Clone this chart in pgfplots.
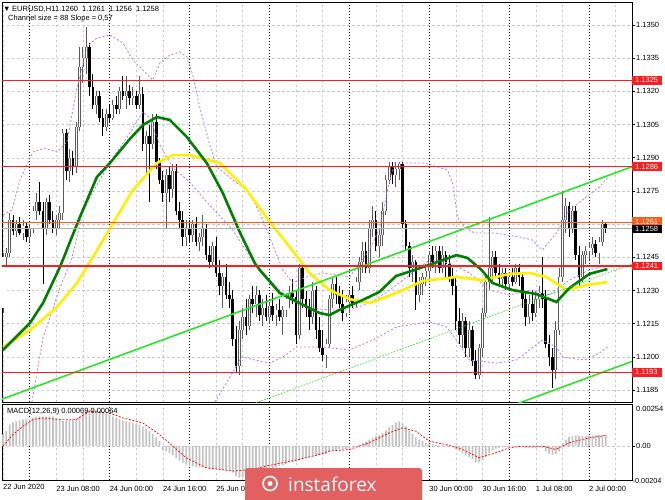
\documentclass[border=0pt]{standalone}
\usepackage{fontspec}
\setmainfont{Liberation Sans}
\newfontfamily\wmfont{Open Sans}
\usepackage{pgfplots}
\usepackage{pgfplotstable}
\pgfplotsset{compat=1.18}

\definecolor{gridgray}{RGB}{200,200,200}
\definecolor{chanGreen}{RGB}{40,230,40}
\definecolor{maGreen}{RGB}{0,128,0}
\definecolor{maYellow}{RGB}{255,240,0}
\definecolor{bbViolet}{RGB}{185,125,240}
\definecolor{lvlRed}{RGB}{250,30,30}
\definecolor{askOrange}{RGB}{255,90,30}
\definecolor{bullGray}{RGB}{90,90,90}
\definecolor{histGray}{RGB}{195,195,195}
\definecolor{wmRed}{RGB}{226,96,96}

% EURUSD H1 candles, i = bar number from 22 Jun 16:00
\pgfplotstableread{
i o h l c
0 1.1222 1.1247 1.1220 1.1245
1 1.1245 1.1249 1.1241 1.1247
2 1.1247 1.1265 1.1245 1.1262
3 1.1262 1.1264 1.1255 1.1257
4 1.1257 1.1262 1.1254 1.1260
5 1.1260 1.1263 1.1255 1.1256
6 1.1256 1.1262 1.1253 1.1259
7 1.1259 1.1261 1.1252 1.1254
8 1.1254 1.1260 1.1252 1.1258
9 1.1258 1.1268 1.1256 1.1266
10 1.1266 1.1274 1.1262 1.1270
11 1.1270 1.1279 1.1264 1.1266
12 1.1266 1.1270 1.1233 1.1258
13 1.1258 1.1272 1.1255 1.1270
14 1.1270 1.1273 1.1260 1.1262
15 1.1262 1.1266 1.1256 1.1258
16 1.1258 1.1264 1.1255 1.1262
17 1.1262 1.1268 1.1258 1.1265
18 1.1265 1.1303 1.1262 1.1301
19 1.1301 1.1303 1.1280 1.1284
20 1.1284 1.1294 1.1279 1.1290
21 1.1290 1.1293 1.1282 1.1286
22 1.1286 1.1306 1.1283 1.1304
23 1.1304 1.1340 1.1302 1.1331
24 1.1331 1.1340 1.1324 1.1335
25 1.1335 1.1349 1.1328 1.1340
26 1.1340 1.1342 1.1318 1.1322
27 1.1322 1.1328 1.1312 1.1314
28 1.1314 1.1320 1.1310 1.1318
29 1.1318 1.1320 1.1306 1.1308
30 1.1308 1.1312 1.1300 1.1304
31 1.1304 1.1312 1.1302 1.1310
32 1.1310 1.1314 1.1306 1.1308
33 1.1308 1.1316 1.1307 1.1314
34 1.1314 1.1318 1.1310 1.1312
35 1.1312 1.1322 1.1310 1.1320
36 1.1320 1.1327 1.1316 1.1318
37 1.1318 1.1327 1.1312 1.1320
38 1.1320 1.1323 1.1314 1.1317
39 1.1317 1.1322 1.1314 1.1318
40 1.1318 1.1320 1.1312 1.1314
41 1.1314 1.1327 1.1312 1.1319
42 1.1319 1.1322 1.1293 1.1296
43 1.1296 1.1302 1.1283 1.1300
44 1.1300 1.1305 1.1270 1.1296
45 1.1296 1.1310 1.1294 1.1306
46 1.1306 1.1310 1.1285 1.1288
47 1.1288 1.1290 1.1278 1.1280
48 1.1280 1.1284 1.1270 1.1274
49 1.1274 1.1285 1.1258 1.1282
50 1.1282 1.1286 1.1270 1.1276
51 1.1276 1.1287 1.1272 1.1284
52 1.1284 1.1287 1.1264 1.1266
53 1.1266 1.1270 1.1258 1.1262
54 1.1262 1.1266 1.1250 1.1254
55 1.1254 1.1262 1.1250 1.1258
56 1.1258 1.1262 1.1252 1.1255
57 1.1255 1.1262 1.1252 1.1260
58 1.1260 1.1263 1.1250 1.1252
59 1.1252 1.1256 1.1248 1.1254
60 1.1254 1.1264 1.1250 1.1258
61 1.1258 1.1260 1.1244 1.1246
62 1.1246 1.1250 1.1240 1.1243
63 1.1243 1.1252 1.1241 1.1250
64 1.1250 1.1254 1.1236 1.1238
65 1.1238 1.1244 1.1228 1.1232
66 1.1232 1.1238 1.1222 1.1236
67 1.1236 1.1242 1.1226 1.1228
68 1.1228 1.1234 1.1222 1.1226
69 1.1226 1.1230 1.1205 1.1208
70 1.1208 1.1214 1.1193 1.1196
71 1.1196 1.1216 1.1192 1.1212
72 1.1212 1.1222 1.1208 1.1218
73 1.1218 1.1226 1.1210 1.1214
74 1.1214 1.1228 1.1212 1.1226
75 1.1226 1.1232 1.1220 1.1224
76 1.1224 1.1232 1.1218 1.1228
77 1.1228 1.1230 1.1216 1.1219
78 1.1219 1.1226 1.1214 1.1222
79 1.1222 1.1228 1.1216 1.1218
80 1.1218 1.1225 1.1215 1.1223
81 1.1223 1.1229 1.1216 1.1219
82 1.1219 1.1224 1.1214 1.1221
83 1.1221 1.1226 1.1216 1.1218
84 1.1218 1.1223 1.1210 1.1221
85 1.1221 1.1228 1.1218 1.1226
86 1.1226 1.1232 1.1222 1.1229
87 1.1229 1.1235 1.1224 1.1227
88 1.1227 1.1230 1.1206 1.1210
89 1.1210 1.1242 1.1208 1.1240
90 1.1240 1.1242 1.1222 1.1226
91 1.1226 1.1230 1.1218 1.1222
92 1.1222 1.1226 1.1212 1.1218
93 1.1218 1.1234 1.1215 1.1230
94 1.1230 1.1232 1.1208 1.1212
95 1.1212 1.1218 1.1202 1.1204
96 1.1204 1.1212 1.1198 1.1201
97 1.1201 1.1208 1.1195 1.1206
98 1.1206 1.1228 1.1204 1.1226
99 1.1226 1.1236 1.1222 1.1233
100 1.1233 1.1236 1.1224 1.1228
101 1.1228 1.1232 1.1222 1.1224
102 1.1224 1.1230 1.1216 1.1220
103 1.1220 1.1228 1.1218 1.1225
104 1.1225 1.1230 1.1220 1.1228
105 1.1228 1.1232 1.1222 1.1224
106 1.1224 1.1236 1.1222 1.1234
107 1.1234 1.1245 1.1230 1.1243
108 1.1243 1.1252 1.1238 1.1248
109 1.1248 1.1252 1.1238 1.1240
110 1.1240 1.1262 1.1238 1.1258
111 1.1258 1.1268 1.1254 1.1262
112 1.1262 1.1266 1.1248 1.1250
113 1.1250 1.1258 1.1245 1.1255
114 1.1255 1.1270 1.1250 1.1266
115 1.1266 1.1282 1.1264 1.1280
116 1.1280 1.1288 1.1278 1.1286
117 1.1286 1.1288 1.1278 1.1282
118 1.1282 1.1288 1.1277 1.1285
119 1.1285 1.1288 1.1280 1.1287
120 1.1287 1.1288 1.1258 1.1260
121 1.1260 1.1262 1.1248 1.1250
122 1.1250 1.1252 1.1236 1.1240
123 1.1240 1.1246 1.1234 1.1243
124 1.1243 1.1244 1.1221 1.1228
125 1.1228 1.1236 1.1225 1.1233
126 1.1233 1.1238 1.1228 1.1236
127 1.1236 1.1242 1.1232 1.1239
128 1.1239 1.1248 1.1235 1.1246
129 1.1246 1.1250 1.1240 1.1243
130 1.1243 1.1250 1.1238 1.1248
131 1.1248 1.1250 1.1238 1.1240
132 1.1240 1.1250 1.1238 1.1246
133 1.1246 1.1248 1.1236 1.1242
134 1.1242 1.1246 1.1234 1.1236
135 1.1236 1.1240 1.1228 1.1232
136 1.1232 1.1236 1.1212 1.1216
137 1.1216 1.1222 1.1206 1.1210
138 1.1210 1.1220 1.1204 1.1216
139 1.1216 1.1218 1.1200 1.1204
140 1.1204 1.1216 1.1200 1.1212
141 1.1212 1.1214 1.1196 1.1198
142 1.1198 1.1203 1.1190 1.1192
143 1.1192 1.1206 1.1190 1.1204
144 1.1204 1.1222 1.1200 1.1220
145 1.1220 1.1238 1.1218 1.1234
146 1.1234 1.1263 1.1230 1.1240
147 1.1240 1.1248 1.1234 1.1245
148 1.1245 1.1248 1.1236 1.1238
149 1.1238 1.1242 1.1232 1.1235
150 1.1235 1.1240 1.1232 1.1238
151 1.1238 1.1240 1.1230 1.1233
152 1.1233 1.1238 1.1230 1.1236
153 1.1236 1.1240 1.1232 1.1234
154 1.1234 1.1242 1.1233 1.1240
155 1.1240 1.1242 1.1232 1.1236
156 1.1236 1.1238 1.1222 1.1226
157 1.1226 1.1230 1.1214 1.1218
158 1.1218 1.1228 1.1215 1.1224
159 1.1224 1.1230 1.1216 1.1220
160 1.1220 1.1230 1.1218 1.1226
161 1.1226 1.1232 1.1222 1.1229
162 1.1229 1.1245 1.1222 1.1226
163 1.1226 1.1230 1.1204 1.1206
164 1.1206 1.1210 1.1196 1.1200
165 1.1200 1.1204 1.1186 1.1194
166 1.1194 1.1216 1.1190 1.1212
167 1.1212 1.1240 1.1210 1.1236
168 1.1236 1.1275 1.1234 1.1262
169 1.1262 1.1272 1.1256 1.1268
170 1.1268 1.1270 1.1254 1.1258
171 1.1258 1.1268 1.1256 1.1266
172 1.1266 1.1268 1.1244 1.1246
173 1.1246 1.1250 1.1232 1.1236
174 1.1236 1.1248 1.1234 1.1246
175 1.1246 1.1250 1.1242 1.1248
176 1.1248 1.1252 1.1244 1.1249
177 1.1249 1.1254 1.1246 1.1251
178 1.1251 1.1253 1.1245 1.1247
179 1.1247 1.1254 1.1242 1.1252
180 1.1252 1.1262 1.1250 1.1260
181 1.1260 1.1261 1.1256 1.1258
}\candles

% MACD(12,26,9) histogram
\pgfplotstableread{
i m
0 0.00071
1 0.00091
2 0.00130
3 0.00144
4 0.00150
5 0.00155
6 0.00160
7 0.00162
8 0.00165
9 0.00172
10 0.00178
11 0.00180
12 0.00176
13 0.00178
14 0.00180
15 0.00178
16 0.00170
17 0.00158
18 0.00152
19 0.00155
20 0.00160
21 0.00162
22 0.00166
23 0.00180
24 0.00200
25 0.00212
26 0.00218
27 0.00222
28 0.00218
29 0.00212
30 0.00205
31 0.00198
32 0.00190
33 0.00180
34 0.00170
35 0.00162
36 0.00155
37 0.00150
38 0.00145
39 0.00140
40 0.00135
41 0.00130
42 0.00118
43 0.00105
44 0.00090
45 0.00075
46 0.00055
47 0.00032
48 -0.00025
49 -0.00030
50 -0.00040
51 -0.00055
52 -0.00070
53 -0.00085
54 -0.00100
55 -0.00110
56 -0.00118
57 -0.00122
58 -0.00125
59 -0.00128
60 -0.00130
61 -0.00132
62 -0.00135
63 -0.00138
64 -0.00140
65 -0.00142
66 -0.00145
67 -0.00148
68 -0.00150
69 -0.00160
70 -0.00180
71 -0.00190
72 -0.00185
73 -0.00175
74 -0.00165
75 -0.00158
76 -0.00150
77 -0.00145
78 -0.00140
79 -0.00138
80 -0.00135
81 -0.00132
82 -0.00128
83 -0.00122
84 -0.00115
85 -0.00108
86 -0.00100
87 -0.00095
88 -0.00092
89 -0.00085
90 -0.00078
91 -0.00072
92 -0.00066
93 -0.00060
94 -0.00055
95 -0.00052
96 -0.00050
97 -0.00045
98 -0.00035
99 -0.00025
100 -0.00022
101 -0.00020
102 -0.00020
103 -0.00018
104 -0.00012
105 -0.00008
106 -0.00002
107 0.00008
108 0.00018
109 0.00025
110 0.00040
111 0.00052
112 0.00060
113 0.00068
114 0.00080
115 0.00095
116 0.00115
117 0.00128
118 0.00140
119 0.00150
120 0.00138
121 0.00118
122 0.00095
123 0.00075
124 0.00055
125 0.00040
126 0.00030
127 0.00022
128 0.00015
129 0.00010
130 0.00008
131 0.00005
132 0.00004
133 0.00003
134 0.00000
135 -0.00005
136 -0.00018
137 -0.00030
138 -0.00042
139 -0.00055
140 -0.00066
141 -0.00080
142 -0.00095
143 -0.00098
144 -0.00085
145 -0.00065
146 -0.00040
147 -0.00025
148 -0.00015
149 -0.00010
150 -0.00008
151 -0.00006
152 -0.00005
153 -0.00003
154 0.00002
155 0.00003
156 -0.00003
157 -0.00010
158 -0.00012
159 -0.00012
160 -0.00010
161 -0.00008
162 -0.00010
163 -0.00030
164 -0.00045
165 -0.00052
166 -0.00048
167 -0.00030
168 0.00020
169 0.00040
170 0.00055
171 0.00060
172 0.00062
173 0.00060
174 0.00060
175 0.00062
176 0.00064
177 0.00066
178 0.00066
179 0.00068
180 0.00070
181 0.00069
}\macd

\begin{document}
\begin{tikzpicture}
\fill[white] (0pt,0pt) rectangle (665pt,-499pt);
\path[use as bounding box] (0pt,0pt) rectangle (665pt,-499pt);

\pgfplotsset{
  mtgrid/.style={
    xmin=-0.3, xmax=188.9,
    scale only axis, width=630pt, scaled ticks=false,
    clip mode=individual,
    axis line style={black, line width=0.8pt},
    tick label style={font=\fontsize{7.5}{8}\selectfont, black},
    tick align=outside, major tick length=3pt,
    ytick pos=right, yticklabel pos=right,
    ytick style={black, line width=0.6pt},
    xtick style={draw=none},
    xtick={0,16,24,40,48,64,72,88,96,112,120,136,144,160,168,184},
    extra x ticks={8,32,56,80,104,128,152,176},
    extra x tick style={major grid style={black, line width=0.6pt, dash pattern=on 1pt off 2pt}, xtick style={draw=none}},
    xmajorgrids, ymajorgrids,
    major grid style={gridgray, line width=0.5pt, dash pattern=on 2.5pt off 2.5pt},
    yticklabel style={anchor=west, inner sep=1pt},
  },
  cndl/.style 2 args={draw=none, mark=none,
    error bars/.cd, y dir=plus, y explicit, error mark=none,
    error bar style={draw=#1, solid, line width=#2}},
}

% ---------------- price panel ----------------
\begin{axis}[mtgrid,
  at={(2pt,-2pt)}, anchor=north west, height=400pt,
  ymin=1.11796, ymax=1.13604,
  ytick={1.1185,1.1200,1.1215,1.1230,1.1245,1.1260,1.1275,1.1290,1.1305,1.1320,1.1335,1.1350},
  yticklabels={1.1185,1.1200,1.1215,1.1230,1.1245,{},1.1275,1.1290,1.1305,1.1320,1.1335,1.1350},
  xticklabels={}, extra x tick labels={},
]
% wicks
\addplot[restrict expr to domain={\thisrow{c}-\thisrow{o}}{0:1}, cndl={bullGray}{0.9pt}]
  table[x=i, y=l, y error expr=\thisrow{h}-\thisrow{l}] {\candles};
\addplot[restrict expr to domain={\thisrow{c}-\thisrow{o}}{-1:-0.00001}, cndl={black}{0.9pt}]
  table[x=i, y=l, y error expr=\thisrow{h}-\thisrow{l}] {\candles};
% bodies
\addplot[restrict expr to domain={\thisrow{c}-\thisrow{o}}{0:1}, cndl={bullGray}{2.7pt}]
  table[x=i, y=o, y error expr=\thisrow{c}-\thisrow{o}] {\candles};
\addplot[restrict expr to domain={\thisrow{c}-\thisrow{o}}{0:1}, cndl={white}{1.1pt}]
  table[x=i, y=o, y error expr=\thisrow{c}-\thisrow{o}] {\candles};
\addplot[restrict expr to domain={\thisrow{c}-\thisrow{o}}{-1:-0.00001}, cndl={black}{2.7pt}]
  table[x=i, y=c, y error expr=\thisrow{o}-\thisrow{c}] {\candles};

% Bollinger bands (upper, middle, lower)
\addplot[bbViolet, line width=0.8pt, dash pattern=on 2pt off 2pt] coordinates {
(0,1.12641) (2.7,1.12664) (5.1,1.12800) (9,1.12926) (12.6,1.12944) (16.2,1.12926)
(19.2,1.12971) (22.2,1.13215) (25.2,1.13401) (28.2,1.13441) (32.1,1.13455) (36,1.13419)
(39,1.13342) (42.6,1.13288) (45,1.13251) (47.1,1.13328) (50.1,1.13364) (53.1,1.13378)
(55.2,1.13355) (57,1.13274) (59.1,1.13129) (62.1,1.12958) (64.2,1.12858) (69,1.12799)
(73.2,1.12754) (75.6,1.12695) (78,1.12619) (80.1,1.12542) (84,1.12393) (87,1.12334) (91.2,1.12361)
(96,1.12379) (104.1,1.12361) (107.1,1.12424) (110.1,1.12483) (113.1,1.12582) (115.5,1.12754)
(117.6,1.12876) (126.6,1.12876) (133.5,1.12845) (135,1.12786) (136.5,1.12632) (138.6,1.12587)
(141.6,1.1256) (147.6,1.1256) (155.1,1.12542) (159,1.12528) (162,1.12483) (166.2,1.1256)
(170.1,1.12664) (175.2,1.12723) (179.1,1.12768) (181.5,1.12808)};
\addplot[bbViolet, line width=0.8pt, dash pattern=on 2pt off 2pt] coordinates {
(8.7,1.11796) (12,1.12085) (17.1,1.12311) (20.7,1.12447) (24,1.12655) (27,1.12745)
(31.2,1.12854) (34.2,1.12926) (38.1,1.13012) (42,1.13107) (44.1,1.13080) (47.1,1.12958)
(51,1.12854) (56.1,1.12790) (61.2,1.12700) (69,1.12573) (75,1.12437) (80.1,1.12347)
(86.1,1.12257) (92.1,1.12221) (98.1,1.12212) (104.1,1.12212) (110.1,1.12243) (116.1,1.12302)
(122.1,1.12370) (128.1,1.12438) (134.1,1.12424) (140.1,1.12379) (146.1,1.12302) (152.1,1.12280)
(158.1,1.12302) (164.1,1.12280) (170.1,1.12347) (176.1,1.12393) (181.5,1.12415)};
\addplot[bbViolet, line width=0.8pt, dash pattern=on 2pt off 2pt] coordinates {
(63.6,1.11796) (67.8,1.11900) (71.7,1.12000) (75.6,1.11986) (80.1,1.11972) (84,1.11999) (88.2,1.12045) (96,1.12045)
(104.1,1.12031) (111,1.12076) (118.2,1.12135) (128.1,1.12158) (133.2,1.12135) (136.2,1.12076)
(140.1,1.11986) (148.2,1.11972) (154.2,1.11986) (162,1.12076) (166.2,1.12045) (168,1.11999)
(174.6,1.11986) (179.1,1.12017) (181.5,1.12045)};

% moving averages
\addplot[maYellow, line width=2.6pt] coordinates {
(0,1.12045) (8.1,1.12121) (16.2,1.12225) (22.2,1.12334) (27,1.12451) (32.1,1.12580)
(39,1.12754) (46.2,1.12876) (51,1.12912) (56.1,1.12912) (65.1,1.12876) (73.2,1.12754)
(80.1,1.12610) (86.1,1.12497) (92.1,1.12379) (98.1,1.12302) (104.1,1.12261) (110.1,1.12243)
(118.2,1.12289) (126,1.12343) (136.2,1.12361) (144,1.12347) (152.1,1.12375) (158.1,1.12379)
(163.2,1.12361) (169.2,1.12302) (175.2,1.12325) (181.5,1.12338)};
\addplot[maGreen, line width=2.6pt] coordinates {
(0,1.12031) (8.1,1.12153) (12,1.12243) (17.1,1.12406) (23.1,1.12632) (28.2,1.12813)
(32.1,1.12876) (38.1,1.12985) (42,1.13048) (46.2,1.13084) (50.1,1.13071) (55.2,1.12994)
(61.2,1.12876) (66,1.12741) (71.1,1.12564) (75.6,1.12424) (77.1,1.12393) (83.1,1.12289)
(89.1,1.12243) (95.1,1.12198) (98.1,1.12189) (101,1.12212) (108,1.12257) (113,1.12293)
(118,1.12365) (123.6,1.12393) (129.6,1.12424) (136.2,1.12460) (139.5,1.12447) (143.7,1.12393)
(147,1.12334) (153,1.12302) (160.2,1.12284) (166.2,1.12248) (170.1,1.12311) (176.1,1.12375)
(181.5,1.12397)};

% regression channel
\addplot[chanGreen, line width=1.6pt] coordinates {(-1,1.11805) (189,1.12860)};
\addplot[chanGreen, line width=0.7pt, dash pattern=on 1.5pt off 1.5pt] coordinates {(-1,1.11365) (189,1.12420)};
\addplot[chanGreen, line width=1.6pt] coordinates {(-1,1.10925) (189,1.11980)};

% levels
\addplot[lvlRed, line width=1.5pt] coordinates {(-1,1.1325) (189,1.1325)};
\addplot[lvlRed, line width=1.5pt] coordinates {(-1,1.1286) (189,1.1286)};
\addplot[lvlRed, line width=1.5pt] coordinates {(-1,1.1241) (189,1.1241)};
\addplot[lvlRed, line width=1.5pt] coordinates {(-1,1.1193) (189,1.1193)};
\addplot[askOrange, line width=0.6pt] coordinates {(-1,1.1261) (189,1.1261)};
\addplot[black!30, line width=0.6pt] coordinates {(-1,1.1258) (189,1.1258)};

\tikzset{pricebox/.style={anchor=west, minimum width=30pt, minimum height=8.5pt, inner xsep=3pt, inner ysep=0pt, text=white, font=\fontsize{7.5}{8}\selectfont, align=left, text width=24pt}}
\node[pricebox, fill=lvlRed] at (axis cs:188.9,1.1325) {1.1325};
\node[pricebox, fill=lvlRed] at (axis cs:188.9,1.1286) {1.1286};
\node[pricebox, fill=lvlRed] at (axis cs:188.9,1.1241) {1.1241};
\node[pricebox, fill=lvlRed] at (axis cs:188.9,1.1193) {1.1193};
\node[pricebox, fill=askOrange] at (axis cs:188.9,1.12612) {1.1261};
\node[pricebox, fill=black] at (axis cs:188.9,1.12578) {1.1258};
\end{axis}

% ---------------- MACD panel ----------------
\begin{axis}[mtgrid,
  at={(2pt,-404pt)}, anchor=north west, height=76pt,
  ymin=-0.00204, ymax=0.00254,
  ytick={0}, yticklabels={0.00},
  xticklabels={{},23 Jun 08:00,{},{},24 Jun 16:00,25 Jun 08:00,{},{},{},{},{},{},30 Jun 16:00,1 Jul 08:00,{},{}},
  extra x tick labels={{},24 Jun 00:00,{},{},{},30 Jun 00:00,{},2 Jul 00:00},
  xticklabel style={anchor=north west, inner sep=0pt, yshift=-3pt},
]
\addplot[ybar, bar width=1.7pt, fill=histGray, draw=none] table[x=i, y=m] {\macd};
\addplot[red, line width=0.7pt, dash pattern=on 2pt off 1.5pt] coordinates {
(0,0.0000) (3,0.0007) (6,0.0012) (9,0.0016) (12,0.0017) (17,0.0016) (22,0.0016)
(26,0.0021) (32,0.0020) (36,0.0017) (42,0.0014) (47,0.0007) (51,0.0000) (55,-0.0007)
(61,-0.0013) (69,-0.0015) (75,-0.0014) (79,-0.0012) (89,-0.0008) (95,-0.0005)
(98,-0.0003) (104,-0.0002) (110,0.0002) (116,0.0008) (120,0.0011) (124,0.0009)
(128,0.0003) (133,0.0001) (138,-0.0002) (143,-0.0007) (148,-0.0004) (152,-0.0001)
(156,0.0000) (162,0.0000) (166,-0.0002) (170,0.0002) (176,0.0005) (181,0.00064)};
\node[anchor=west, font=\fontsize{7.5}{8}\selectfont, inner sep=0pt] at (rel axis cs:1,1) [xshift=4pt, yshift=-5pt] {0.00254};
\node[anchor=west, font=\fontsize{7.3}{8}\selectfont, inner sep=0pt] at (rel axis cs:1,0) [xshift=0.5pt, yshift=-1pt] {-0.00204};
\end{axis}

% texts
\node[anchor=base west, font=\fontsize{7.5}{8}\selectfont, inner sep=0pt] at (3pt,-11.5pt) {▼};
\node[anchor=base west, font=\fontsize{7.5}{8}\selectfont, inner sep=0pt] at (12pt,-11.5pt) {EURUSD,H1};
\node[anchor=base west, font=\fontsize{7.5}{8}\selectfont, inner sep=0pt] at (55pt,-11.5pt) {1.1260\hspace{4pt}1.1261\hspace{4pt}1.1256\hspace{4pt}1.1258};
\node[anchor=base west, font=\fontsize{7.5}{8}\selectfont, inner sep=0pt] at (8pt,-20.5pt) {Channel size = 88 Slope = 0,57};
\node[anchor=base west, font=\fontsize{7.5}{8}\selectfont, inner sep=0pt] at (7pt,-413.5pt) {MACD(12,26,9) 0.00069 0.00064};
\node[anchor=north west, font=\fontsize{7.5}{8}\selectfont, inner sep=0pt] at (3pt,-484pt) {22 Jun 2020};

% watermark
\fill[wmRed, rounded corners=3pt] (245pt,-468pt) rectangle (422pt,-505pt);
\draw[white, line width=1.6pt] (270pt,-483.5pt) circle (7pt);
\fill[white] (270pt,-483.5pt) circle (2.5pt);
\node[anchor=west, text=white, font=\wmfont\fontsize{19}{20}\selectfont, inner sep=0pt] at (288pt,-484pt) {instaforex};
\end{tikzpicture}
\end{document}
